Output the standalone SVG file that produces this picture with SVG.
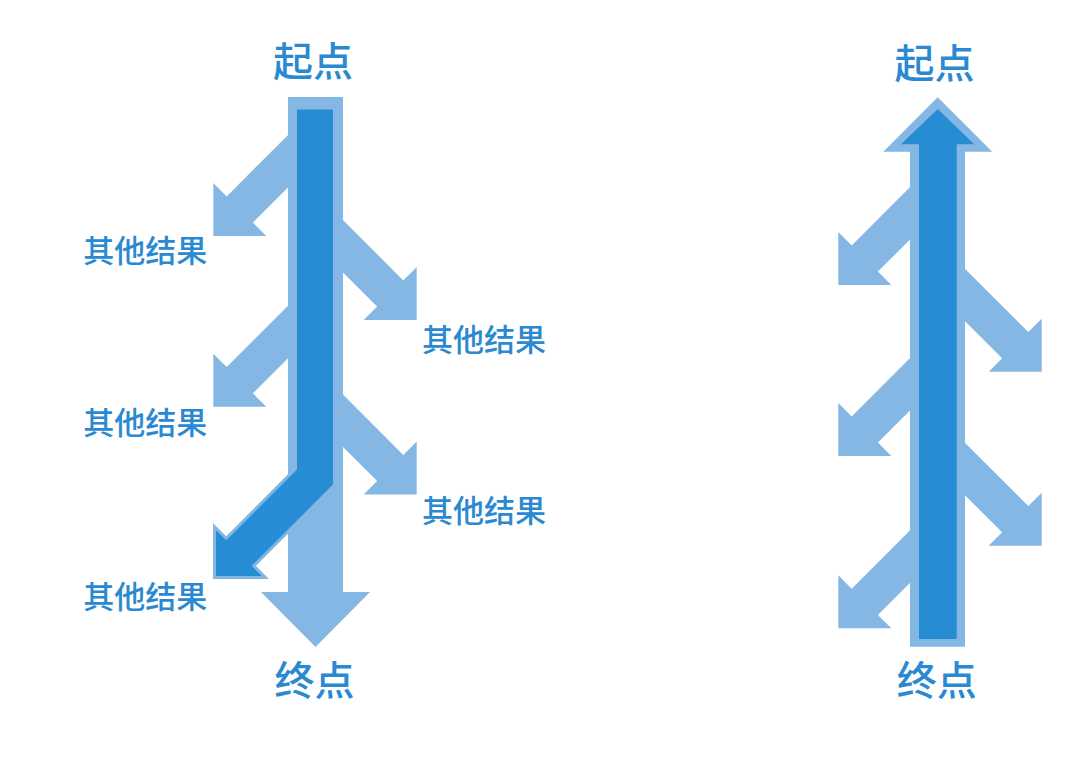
<svg xmlns="http://www.w3.org/2000/svg" xmlns:xlink="http://www.w3.org/1999/xlink" width="1076" height="757" viewBox="0 0 1076 757">
<style>
.light{fill:#85b7e4}
.dark{fill:#268cd4}
.darkpath{fill:#268cd4;stroke:#85b7e4;stroke-width:3;stroke-linejoin:miter}
text{font-family:"Noto Sans CJK SC","Noto Sans",sans-serif;fill:#2a89d0;text-anchor:middle}
.big{font-size:40px;font-weight:500}
.small{font-size:31px;font-weight:500}
</style>
<defs>
<polygon id="branch" points="0,0 53,0 39.6,-13.4 105,-78.8 78.8,-105 13.4,-39.6 0,-53"/>
</defs>
<rect width="1076" height="757" fill="#ffffff"/>
<g id="connectors">
<g id="left-branches" class="light">
<use xlink:href="#branch" transform="translate(213.3,236)"/>
<use xlink:href="#branch" transform="translate(213.3,406.7)"/>
<use xlink:href="#branch" transform="translate(416.7,320) scale(-1,1)"/>
<use xlink:href="#branch" transform="translate(416.7,494.5) scale(-1,1)"/>
</g>
<g id="right-branches" class="light">
<use xlink:href="#branch" transform="translate(838.3,285)"/>
<use xlink:href="#branch" transform="translate(838.3,456)"/>
<use xlink:href="#branch" transform="translate(838.3,628.3)"/>
<use xlink:href="#branch" transform="translate(1041.7,371.7) scale(-1,1)"/>
<use xlink:href="#branch" transform="translate(1041.7,545.7) scale(-1,1)"/>
</g>
<polygon id="left-main" class="light" points="288,97 343,97 343,592 370,592 315.5,647 261,592 288,592"/>
<polygon id="left-path" class="darkpath" points="295.5,108 334.5,108 334.5,485.1 253.75,565.85 265.4,577.5 214.5,577.5 214.5,526.6 226.2,538.2 295.5,468.9"/>
<polygon id="right-main" class="light" points="937.7,97.3 992.3,151.7 965,151.7 965,646.7 910,646.7 910,151.7 883.3,151.7"/>
<polygon id="right-path" class="dark" points="937.7,109 974.3,144.3 956.7,144.3 956.7,639 919,639 919,144.3 901,144.3"/>
</g>
<g id="node-start-left"><text class="big" x="313" y="75.5">起点</text></g>
<g id="node-end-left"><text class="big" x="314.5" y="694.5">终点</text></g>
<g id="node-other-1"><text class="small" x="145.3" y="262">其他结果</text></g>
<g id="node-other-2"><text class="small" x="145.3" y="433.5">其他结果</text></g>
<g id="node-other-3"><text class="small" x="145.3" y="608">其他结果</text></g>
<g id="node-other-4"><text class="small" x="484" y="351">其他结果</text></g>
<g id="node-other-5"><text class="small" x="484" y="522">其他结果</text></g>
<g id="node-start-right"><text class="big" x="934.5" y="77.5">起点</text></g>
<g id="node-end-right"><text class="big" x="936.7" y="694.5">终点</text></g>
</svg>
